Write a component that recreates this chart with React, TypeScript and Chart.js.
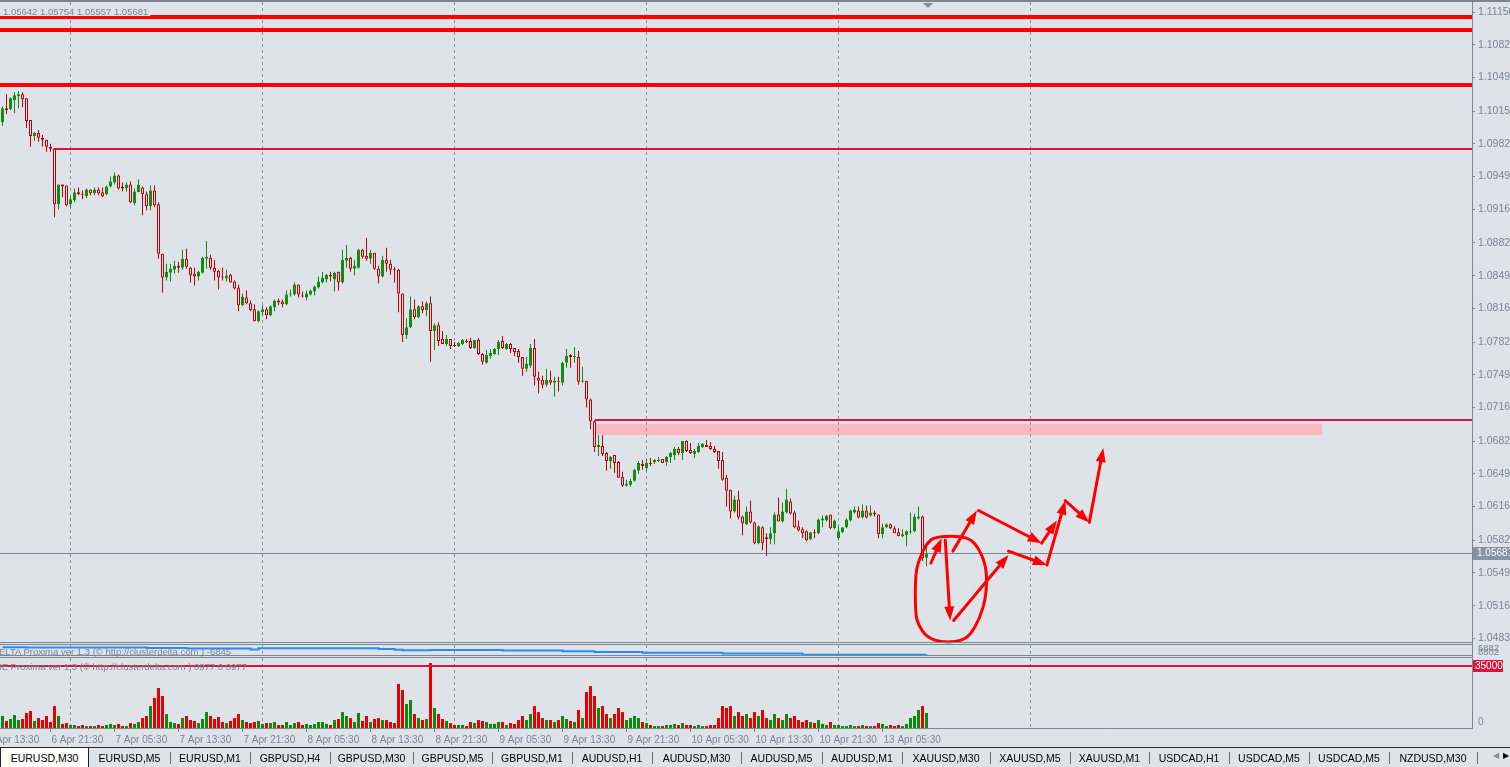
import React, { useEffect, useRef } from 'react';
import { Chart, registerables } from 'chart.js';
Chart.register(...registerables);

// ---------------- DATA (EURUSD, M30) ----------------
const opens = [
  1.1004,1.1018,1.1017,1.1026,1.1030,1.1032,1.1028,1.1006,1.0990,1.0993,
  1.0988,1.0986,1.0979,1.0977,1.0921,1.0941,1.0940,1.0921,1.0925,1.0933,
  1.0931,1.0929,1.0936,1.0932,1.0936,1.0933,1.0931,1.0939,1.0943,1.0950,
  1.0939,1.0937,1.0941,1.0922,1.0933,1.0938,1.0931,1.0919,1.0935,1.0921,
  1.0871,1.0847,1.0852,1.0855,1.0859,1.0857,1.0866,1.0857,1.0851,1.0848,
  1.0852,1.0866,1.0867,1.0857,1.0854,1.0848,1.0846,1.0850,1.0843,1.0837,
  1.0819,1.0827,1.0821,1.0815,1.0803,1.0812,1.0815,1.0809,1.0817,1.0824,
  1.0823,1.0820,1.0830,1.0830,1.0840,1.0829,1.0827,1.0830,1.0833,1.0837,
  1.0842,1.0845,1.0850,1.0845,1.0853,1.0842,1.0864,1.0867,1.0856,1.0857,
  1.0875,1.0869,1.0866,1.0872,1.0856,1.0848,1.0865,1.0861,1.0856,1.0855,
  1.0831,1.0789,1.0797,1.0815,1.0807,1.0818,1.0814,1.0821,1.0793,1.0799,
  1.0785,1.0780,1.0785,1.0779,1.0778,1.0780,1.0783,1.0783,1.0776,1.0784,
  1.0770,1.0761,1.0768,1.0770,1.0775,1.0783,1.0775,1.0780,1.0776,1.0773,
  1.0767,1.0755,1.0758,1.0776,1.0746,1.0744,1.0739,1.0744,1.0741,1.0743,
  1.0741,1.0761,1.0769,1.0767,1.0767,1.0742,1.0743,1.0724,1.0702,1.0676,
  1.0677,1.0670,1.0662,1.0668,1.0661,1.0646,1.0637,1.0638,1.0642,1.0652,
  1.0659,1.0655,1.0660,1.0661,1.0662,1.0664,1.0661,1.0666,1.0668,1.0674,
  1.0670,1.0682,1.0673,1.0669,1.0671,1.0676,1.0678,1.0677,1.0674,1.0672,
  1.0663,1.0645,1.0633,1.0611,1.0623,1.0606,1.0598,1.0611,1.0600,1.0579,
  1.0595,1.0585,1.0583,1.0589,1.0608,1.0601,1.0610,1.0621,1.0610,1.0596,
  1.0593,1.0591,1.0583,1.0590,1.0589,1.0602,1.0602,1.0608,1.0594,1.0584,
  1.0590,1.0595,1.0602,1.0610,1.0612,1.0605,1.0612,1.0607,1.0610,1.0608,
  1.0588,1.0595,1.0598,1.0594,1.0590,1.0586,1.0587,1.0590,1.0591,1.0604,
  1.0606,1.05642,
];
const highs = [
  1.1020,1.1032,1.1029,1.1034,1.1035,1.1034,1.1028,1.1006,1.0994,1.0996,
  1.0991,1.0986,1.0982,1.0977,1.0941,1.0941,1.0940,1.0929,1.0937,1.0938,
  1.0935,1.0937,1.0936,1.0938,1.0938,1.0938,1.0940,1.0949,1.0953,1.0951,
  1.0943,1.0943,1.0944,1.0937,1.0946,1.0939,1.0934,1.0940,1.0940,1.0923,
  1.0871,1.0861,1.0861,1.0864,1.0863,1.0875,1.0876,1.0858,1.0857,1.0854,
  1.0868,1.0884,1.0870,1.0865,1.0855,1.0857,1.0855,1.0851,1.0844,1.0840,
  1.0831,1.0834,1.0824,1.0820,1.0814,1.0819,1.0817,1.0819,1.0825,1.0826,
  1.0825,1.0834,1.0835,1.0842,1.0840,1.0833,1.0834,1.0835,1.0839,1.0848,
  1.0853,1.0851,1.0853,1.0853,1.0853,1.0875,1.0880,1.0868,1.0865,1.0876,
  1.0876,1.0887,1.0875,1.0872,1.0859,1.0869,1.0877,1.0865,1.0858,1.0856,
  1.0831,1.0806,1.0828,1.0825,1.0819,1.0823,1.0823,1.0828,1.0801,1.0802,
  1.0793,1.0789,1.0785,1.0782,1.0782,1.0785,1.0785,1.0786,1.0784,1.0786,
  1.0771,1.0774,1.0775,1.0776,1.0784,1.0788,1.0781,1.0781,1.0776,1.0775,
  1.0767,1.0767,1.0780,1.0785,1.0752,1.0748,1.0755,1.0753,1.0747,1.0747,
  1.0762,1.0775,1.0770,1.0777,1.0773,1.0757,1.0743,1.0725,1.0703,1.0688,
  1.0688,1.0671,1.0667,1.0668,1.0662,1.0651,1.0643,1.0644,1.0654,1.0662,
  1.0663,1.0664,1.0665,1.0664,1.0666,1.0664,1.0667,1.0671,1.0676,1.0676,
  1.0682,1.0683,1.0680,1.0674,1.0680,1.0680,1.0683,1.0681,1.0677,1.0672,
  1.0671,1.0648,1.0633,1.0627,1.0632,1.0607,1.0616,1.0622,1.0601,1.0597,
  1.0596,1.0589,1.0595,1.0610,1.0625,1.0620,1.0634,1.0624,1.0612,1.0602,
  1.0595,1.0592,1.0590,1.0593,1.0604,1.0607,1.0607,1.0608,1.0603,1.0596,
  1.0595,1.0604,1.0613,1.0616,1.0616,1.0618,1.0617,1.0617,1.0612,1.0608,
  1.0599,1.0599,1.0599,1.0596,1.0594,1.0593,1.0592,1.0610,1.0609,1.0616,
  1.0607,1.05754,
];
const lows = [
  1.1000,1.1012,1.1016,1.1013,1.1018,1.1019,1.0998,1.0979,1.0985,1.0984,
  1.0979,1.0974,1.0974,1.0908,1.0916,1.0928,1.0919,1.0917,1.0923,1.0930,
  1.0926,1.0927,1.0930,1.0930,1.0930,1.0928,1.0930,1.0938,1.0941,1.0936,
  1.0934,1.0934,1.0922,1.0920,1.0933,1.0910,1.0915,1.0915,1.0918,1.0866,
  1.0832,1.0844,1.0843,1.0851,1.0852,1.0855,1.0856,1.0842,1.0839,1.0844,
  1.0851,1.0856,1.0855,1.0844,1.0835,1.0844,1.0843,1.0842,1.0835,1.0813,
  1.0818,1.0820,1.0813,1.0803,1.0802,1.0809,1.0805,1.0808,1.0813,1.0819,
  1.0817,1.0819,1.0828,1.0829,1.0827,1.0827,1.0824,1.0829,1.0829,1.0836,
  1.0841,1.0842,1.0843,1.0833,1.0834,1.0841,1.0857,1.0853,1.0849,1.0856,
  1.0866,1.0864,1.0861,1.0855,1.0841,1.0847,1.0853,1.0850,1.0842,1.0812,
  1.0782,1.0785,1.0796,1.0805,1.0806,1.0811,1.0808,1.0762,1.0774,1.0778,
  1.0780,1.0778,1.0775,1.0777,1.0777,1.0779,1.0781,1.0775,1.0775,1.0769,
  1.0759,1.0760,1.0765,1.0769,1.0769,1.0775,1.0774,1.0771,1.0768,1.0761,
  1.0748,1.0752,1.0756,1.0738,1.0730,1.0735,1.0737,1.0739,1.0727,1.0732,
  1.0738,1.0756,1.0756,1.0761,1.0739,1.0741,1.0716,1.0694,1.0671,1.0667,
  1.0667,1.0652,1.0654,1.0650,1.0645,1.0636,1.0636,1.0636,1.0641,1.0649,
  1.0653,1.0651,1.0657,1.0659,1.0661,1.0660,1.0657,1.0660,1.0663,1.0668,
  1.0663,1.0671,1.0669,1.0665,1.0670,1.0675,1.0676,1.0673,1.0670,1.0654,
  1.0642,1.0616,1.0604,1.0610,1.0603,1.0587,1.0597,1.0599,1.0578,1.0578,
  1.0572,1.0566,1.0578,1.0578,1.0601,1.0600,1.0609,1.0608,1.0594,1.0591,
  1.0584,1.0581,1.0582,1.0584,1.0588,1.0595,1.0601,1.0593,1.0593,1.0582,
  1.0589,1.0594,1.0601,1.0609,1.0604,1.0604,1.0604,1.0606,1.0606,1.0584,
  1.0584,1.0594,1.0593,1.0589,1.0586,1.0585,1.0576,1.0588,1.0590,1.0603,
  1.0561,1.05557,
];
const closes = [
  1.1018,1.1016,1.1028,1.1031,1.1032,1.1027,1.1005,1.0990,1.0993,1.0988,
  1.0986,1.0979,1.0977,1.0921,1.0941,1.0939,1.0920,1.0926,1.0933,1.0931,
  1.0930,1.0936,1.0932,1.0936,1.0932,1.0929,1.0939,1.0944,1.0950,1.0937,
  1.0937,1.0941,1.0923,1.0934,1.0941,1.0931,1.0919,1.0935,1.0920,1.0871,
  1.0847,1.0853,1.0856,1.0859,1.0857,1.0866,1.0858,1.0849,1.0848,1.0853,
  1.0867,1.0868,1.0857,1.0853,1.0847,1.0847,1.0849,1.0842,1.0836,1.0819,
  1.0828,1.0821,1.0814,1.0803,1.0813,1.0815,1.0809,1.0818,1.0824,1.0822,
  1.0820,1.0830,1.0831,1.0840,1.0830,1.0828,1.0831,1.0834,1.0838,1.0843,
  1.0847,1.0850,1.0848,1.0852,1.0842,1.0865,1.0867,1.0856,1.0859,1.0875,
  1.0868,1.0866,1.0872,1.0856,1.0848,1.0865,1.0861,1.0855,1.0855,1.0831,
  1.0789,1.0797,1.0815,1.0807,1.0818,1.0814,1.0821,1.0793,1.0799,1.0783,
  1.0780,1.0785,1.0778,1.0778,1.0781,1.0784,1.0782,1.0776,1.0784,1.0770,
  1.0762,1.0769,1.0771,1.0775,1.0782,1.0776,1.0780,1.0775,1.0772,1.0767,
  1.0755,1.0760,1.0776,1.0747,1.0743,1.0739,1.0744,1.0741,1.0743,1.0742,
  1.0761,1.0768,1.0767,1.0768,1.0742,1.0743,1.0724,1.0702,1.0676,1.0678,
  1.0669,1.0662,1.0666,1.0660,1.0645,1.0637,1.0639,1.0642,1.0653,1.0660,
  1.0657,1.0660,1.0659,1.0663,1.0663,1.0660,1.0666,1.0670,1.0674,1.0670,
  1.0682,1.0672,1.0670,1.0672,1.0677,1.0679,1.0676,1.0674,1.0671,1.0662,
  1.0643,1.0632,1.0611,1.0623,1.0605,1.0599,1.0611,1.0600,1.0579,1.0596,
  1.0579,1.0583,1.0589,1.0608,1.0601,1.0611,1.0623,1.0609,1.0595,1.0592,
  1.0589,1.0582,1.0590,1.0589,1.0603,1.0604,1.0607,1.0594,1.0602,1.0591,
  1.0595,1.0603,1.0612,1.0613,1.0605,1.0612,1.0605,1.0610,1.0608,1.0588,
  1.0595,1.0598,1.0594,1.0589,1.0586,1.0588,1.0591,1.0591,1.0606,1.0606,
  1.0564,1.05681,
];
const volumes = [
  6800,4000,5100,7300,4500,5100,8500,9600,4000,5600,
  4500,6800,3400,12400,6800,2300,2800,1700,1700,1100,
  1700,1100,1100,1100,1700,1100,1700,2300,1700,2300,
  1100,1100,2800,2300,3400,5600,6800,12400,17000,22600,
  18100,7900,3400,2800,2300,5600,6800,4500,4000,2800,
  5100,9000,6800,5100,6200,3400,2800,4000,5600,7900,
  4500,3400,2800,3400,4000,2300,2800,2800,3400,1700,
  1700,3400,1700,2800,3400,1700,2300,1700,2300,3400,
  3400,2300,1700,4500,5100,9000,6800,5600,3400,8500,
  4000,6800,3400,5100,5600,4500,4500,3400,2800,24900,
  21500,13600,15800,7900,5600,4500,5100,36700,11300,7900,
  5100,4000,2800,1700,1700,1700,1100,3400,2800,4500,
  4000,3400,2300,2300,3400,3400,1700,2800,2300,4500,
  6800,4500,7900,12400,9000,5600,4500,4500,3400,4500,
  6800,5100,4000,3400,10200,5600,20300,23700,18100,11300,
  12400,7900,5600,7900,11300,9000,4500,5600,6800,5600,
  3400,2800,1700,1100,1100,1100,1700,1700,2300,1700,
  2800,1700,1700,1100,1700,1100,1100,1700,1700,5600,
  12400,11300,12400,6800,9000,6800,7900,5600,9000,6800,
  10200,5600,4500,7900,5600,4500,7900,5600,6800,4500,
  3400,4500,3400,2800,4500,2300,1700,3400,1700,1700,
  1100,1100,1700,1100,1100,1700,1100,1100,1100,2800,
  2300,1100,1700,1100,1700,1100,2300,5600,6800,10200,
  12400,8500,
];
// DELTA Proxima cumulative line (bar index, value)
const deltaIdx = [0, 6, 36, 46, 62, 64, 94, 98, 100, 107, 125, 140, 148, 160, 180, 200, 231];
const deltaVals = [11500, 10500, 9500, 8000, 5500, 9000, 7000, 5000, 4000, 4500, 3000, 1000, -500, -2500, -4500, -7500, -6845];

const priceTicks = [1.0483, 1.0516, 1.0549, 1.0582, 1.0616, 1.0649, 1.0682, 1.0716, 1.0749, 1.0782,
  1.0816, 1.0849, 1.0882, 1.0916, 1.0949, 1.0982, 1.1015, 1.1049, 1.1082, 1.1115];
const timeTickIdx = [-4, 12, 28, 44, 60, 76, 92, 108, 124, 140, 156, 172, 188, 204, 220];
const timeLabels = ['6 Apr 13:30', '6 Apr 21:30', '7 Apr 05:30', '7 Apr 13:30', '7 Apr 21:30', '8 Apr 05:30',
  '8 Apr 13:30', '8 Apr 21:30', '9 Apr 05:30', '9 Apr 13:30', '9 Apr 21:30', '10 Apr 05:30',
  '10 Apr 13:30', '10 Apr 21:30', '13 Apr 05:30'];
const gridIdx = [17, 65, 113, 161, 209, 257];

// chart objects (price levels / zone)
const thickLevels = [1.1110, 1.1097, 1.1041];
const thinLevel = 1.0977;
const thinLevelStart = 12.8;
const zoneLine = 1.0703;
const zoneHigh = 1.0699;
const zoneLow = 1.0688;
const zoneStart = 148.2;
const zoneEnd = 329.9;
const volumeLevel = 35000;

// hand-drawn red marks (bar index, price)
const circleIdx = [233.2, 241.5, 244.4, 246.1, 245.9, 244.4, 241.9, 239.4, 234.8, 231.1, 229.0, 228.2, 228.2, 229.4, 231.1];
const circlePrice = [1.0586, 1.0586, 1.0572, 1.0552, 1.0525, 1.0504, 1.0486, 1.0480, 1.0479, 1.0484, 1.0496, 1.0508, 1.0549, 1.0565, 1.0579];
const arrowFromIdx = [232.1, 235.7, 237.8, 251.5, 261.1, 237.6, 244.0, 259.8, 265.7, 271.7];
const arrowFromPrice = [1.0559, 1.0582, 1.0501, 1.0571, 1.0557, 1.0571, 1.0612, 1.0579, 1.0622, 1.0600];
const arrowToIdx = [234.8, 236.9, 251.5, 261.1, 265.7, 243.6, 259.8, 263.6, 271.7, 275.2];
const arrowToPrice = [1.0584, 1.0501, 1.0567, 1.0557, 1.0622, 1.0612, 1.0579, 1.0602, 1.0600, 1.0675];

const tabNames = ['EURUSD,M30', 'EURUSD,M5', 'EURUSD,M1', 'GBPUSD,H4', 'GBPUSD,M30', 'GBPUSD,M5', 'GBPUSD,M1',
  'AUDUSD,H1', 'AUDUSD,M30', 'AUDUSD,M5', 'AUDUSD,M1', 'XAUUSD,M30', 'XAUUSD,M5', 'XAUUSD,M1',
  'USDCAD,H1', 'USDCAD,M5', 'USDCAD,M5', 'NZDUSD,M30'];

// ---------------- LAYOUT / STYLE ----------------
const TAB_EDGES = [0, 89, 170, 250, 330, 413, 492, 572, 652, 741, 822, 902, 990, 1070, 1149, 1229, 1309, 1389, 1477];
const FONT = '"Liberation Sans", Arial, sans-serif';
const BG = '#dee3ea';
const TXT = '#7a8594';
const AXIS = '#7c8794';
const GRID = '#8a95a2';
const UP = '#148c14';
const DN = '#c40000';
const VUP = '#0c8a0c';
const VDN = '#e60000';
const PLOT_W = 1472;
const X_MIN = -0.625;
const X_MAX = X_MIN + PLOT_W / 4;
const P_MIN = 1.04793;
const P_MAX = 1.11251;

const N = opens.length;
const idx = opens.map((_, i) => i);
const up = (i: number) => closes[i] >= opens[i];

function drawGrid(ctx: any, x: any, top: number, bottom: number) {
  ctx.save();
  ctx.strokeStyle = GRID;
  ctx.lineWidth = 1;
  ctx.setLineDash([3, 3]);
  gridIdx.forEach((g) => {
    const px = Math.floor(x.getPixelForValue(g)) + 0.5;
    ctx.beginPath();
    ctx.moveTo(px, top);
    ctx.lineTo(px, bottom);
    ctx.stroke();
  });
  ctx.restore();
}

function arrow(ctx: any, x1: number, y1: number, x2: number, y2: number) {
  const ang = Math.atan2(y2 - y1, x2 - x1);
  const L = 14, HW = 5;
  const bx = x2 - L * Math.cos(ang), by = y2 - L * Math.sin(ang);
  ctx.beginPath();
  ctx.moveTo(x1, y1);
  ctx.lineTo(bx, by);
  ctx.stroke();
  ctx.beginPath();
  ctx.moveTo(x2, y2);
  ctx.lineTo(bx + HW * Math.sin(ang), by - HW * Math.cos(ang));
  ctx.lineTo(bx - HW * Math.sin(ang), by + HW * Math.cos(ang));
  ctx.closePath();
  ctx.fill();
}

const mainDecor = {
  id: 'mainDecor',
  beforeDatasetsDraw(chart: any) {
    const { ctx, chartArea: a } = chart;
    const x = chart.scales.x, y = chart.scales.y;
    ctx.save();
    const zx1 = Math.round(x.getPixelForValue(zoneStart));
    const zx2 = Math.round(x.getPixelForValue(zoneEnd));
    const zy1 = Math.round(y.getPixelForValue(zoneHigh));
    const zy2 = Math.round(y.getPixelForValue(zoneLow));
    ctx.fillStyle = '#ffb6c1';
    ctx.fillRect(zx1, zy1, zx2 - zx1, zy2 - zy1);
    drawGrid(ctx, x, a.top, a.bottom);
    ctx.strokeStyle = '#ff0000';
    ctx.lineWidth = 4;
    thickLevels.forEach((p) => {
      const py = Math.round(y.getPixelForValue(p));
      ctx.beginPath();
      ctx.moveTo(a.left, py);
      ctx.lineTo(a.right, py);
      ctx.stroke();
    });
    ctx.strokeStyle = '#dc143c';
    ctx.lineWidth = 2;
    let py = Math.round(y.getPixelForValue(thinLevel));
    ctx.beginPath();
    ctx.moveTo(x.getPixelForValue(thinLevelStart), py);
    ctx.lineTo(a.right, py);
    ctx.stroke();
    py = Math.round(y.getPixelForValue(zoneLine));
    ctx.beginPath();
    ctx.moveTo(zx1, py);
    ctx.lineTo(a.right, py);
    ctx.stroke();
    const cy = Math.floor(y.getPixelForValue(closes[N - 1])) + 0.5;
    ctx.strokeStyle = '#7b8796';
    ctx.lineWidth = 1;
    ctx.beginPath();
    ctx.moveTo(a.left, cy);
    ctx.lineTo(a.right, cy);
    ctx.stroke();
    ctx.restore();
  },
  afterDatasetsDraw(chart: any) {
    const { ctx } = chart;
    const x = chart.scales.x, y = chart.scales.y;
    ctx.save();
    ctx.strokeStyle = '#ff0000';
    ctx.fillStyle = '#ff0000';
    ctx.lineWidth = 3;
    ctx.lineCap = 'round';
    ctx.lineJoin = 'round';
    const pts = circleIdx.map((v, k) => [x.getPixelForValue(v), y.getPixelForValue(circlePrice[k])]);
    ctx.beginPath();
    const m0 = [(pts[0][0] + pts[pts.length - 1][0]) / 2, (pts[0][1] + pts[pts.length - 1][1]) / 2];
    ctx.moveTo(m0[0], m0[1]);
    for (let k = 0; k < pts.length; k++) {
      const p = pts[k], q = pts[(k + 1) % pts.length];
      ctx.quadraticCurveTo(p[0], p[1], (p[0] + q[0]) / 2, (p[1] + q[1]) / 2);
    }
    ctx.stroke();
    arrowFromIdx.forEach((v, k) => {
      arrow(ctx, x.getPixelForValue(v), y.getPixelForValue(arrowFromPrice[k]),
        x.getPixelForValue(arrowToIdx[k]), y.getPixelForValue(arrowToPrice[k]));
    });
    ctx.restore();
  },
  afterDraw(chart: any) {
    const { ctx, chartArea: a } = chart;
    const y = chart.scales.y;
    ctx.save();
    ctx.font = `9.5px ${FONT}`;
    ctx.textBaseline = 'middle';
    const head = [opens[N - 1], highs[N - 1], lows[N - 1], closes[N - 1]].map((v) => v.toFixed(5)).join(' ');
    const w = ctx.measureText(head).width;
    ctx.fillStyle = BG;
    ctx.fillRect(0, 6, w + 5, 10);
    ctx.fillStyle = TXT;
    ctx.fillText(head, 3, 12);
    ctx.fillStyle = '#7f8a97';
    ctx.beginPath();
    ctx.moveTo(923, 3);
    ctx.lineTo(933, 3);
    ctx.lineTo(928, 8);
    ctx.closePath();
    ctx.fill();
    const cy = Math.floor(y.getPixelForValue(closes[N - 1])) + 0.5;
    ctx.fillStyle = '#8492a1';
    ctx.fillRect(a.right + 1, Math.round(cy) - 7, 40, 13);
    ctx.fillStyle = '#ffffff';
    ctx.font = `10px ${FONT}`;
    ctx.fillText(closes[N - 1].toFixed(5), a.right + 5, cy);
    ctx.restore();
  },
};

const deltaDecor = {
  id: 'deltaDecor',
  beforeDatasetsDraw(chart: any) {
    drawGrid(chart.ctx, chart.scales.x, 0, chart.height);
  },
  afterDraw(chart: any) {
    const { ctx, chartArea: a } = chart;
    ctx.save();
    ctx.font = `9.5px ${FONT}`;
    ctx.textBaseline = 'middle';
    ctx.fillStyle = TXT;
    ctx.fillText('6882', a.right + 6, 3);
    ctx.fillText('6802', a.right + 6, 7);
    ctx.restore();
  },
};

const volDecor = {
  id: 'volDecor',
  beforeDatasetsDraw(chart: any) {
    const a = chart.chartArea;
    drawGrid(chart.ctx, chart.scales.x, 0, a.bottom);
  },
  afterDatasetsDraw(chart: any) {
    const { ctx, chartArea: a } = chart;
    const y = chart.scales.y;
    const ly = Math.round(y.getPixelForValue(volumeLevel));
    ctx.save();
    ctx.strokeStyle = '#dc143c';
    ctx.lineWidth = 2;
    ctx.beginPath();
    ctx.moveTo(a.left, ly);
    ctx.lineTo(a.right, ly);
    ctx.stroke();
    ctx.restore();
  },
  afterDraw(chart: any) {
    const { ctx, chartArea: a } = chart;
    const y = chart.scales.y;
    const ly = Math.round(y.getPixelForValue(volumeLevel));
    ctx.save();
    ctx.font = `10px ${FONT}`;
    ctx.textBaseline = 'middle';
    ctx.fillStyle = '#dc143c';
    ctx.fillRect(a.right + 1, ly - 6, 30, 12);
    ctx.fillStyle = '#ffffff';
    ctx.fillText(String(volumeLevel), a.right + 3, ly);
    ctx.fillStyle = TXT;
    ctx.fillText('0', a.right + 6, y.getPixelForValue(0) - 6);
    ctx.restore();
  },
};

function baseX(display: boolean) {
  return { type: 'linear', min: X_MIN, max: X_MAX, offset: false, display, grid: { offset: false } };
}

export default function App() {
  const mainRef = useRef<HTMLCanvasElement>(null);
  const deltaRef = useRef<HTMLCanvasElement>(null);
  const volRef = useRef<HTMLCanvasElement>(null);

  useEffect(() => {
    document.body.style.margin = '0';
    const main = new Chart(mainRef.current as any, {
      type: 'bar',
      data: {
        datasets: [
          {
            label: 'body',
            data: idx.map((i) => ({ x: i, y: [opens[i], closes[i]] })),
            backgroundColor: idx.map((i) => (up(i) ? UP : BG)),
            borderColor: idx.map((i) => (up(i) ? UP : DN)),
            borderWidth: 1,
            borderSkipped: false,
            barThickness: 3,
            minBarLength: 1,
            inflateAmount: 0,
            grouped: false,
            order: 0,
          },
          {
            label: 'wick',
            data: idx.map((i) => ({ x: i, y: [lows[i], highs[i]] })),
            backgroundColor: idx.map((i) => (up(i) ? UP : DN)),
            borderWidth: 0,
            barThickness: 1,
            inflateAmount: 0,
            grouped: false,
            order: 1,
          },
        ] as any,
      },
      options: {
        animation: false,
        responsive: false,
        events: [],
        layout: { padding: { top: 2, bottom: 2, left: 0, right: 0 } },
        plugins: { legend: { display: false }, tooltip: { enabled: false } },
        scales: {
          x: baseX(false) as any,
          y: {
            type: 'linear',
            position: 'right',
            min: P_MIN,
            max: P_MAX,
            afterBuildTicks: (s: any) => { s.ticks = priceTicks.map((v) => ({ value: v })); },
            afterFit: (s: any) => { s.width = 38; s.paddingTop = 0; s.paddingBottom = 0; },
            grid: { drawOnChartArea: false, drawTicks: true, tickLength: 3, color: AXIS },
            border: { display: true, color: AXIS },
            ticks: {
              autoSkip: false,
              padding: 3,
              color: TXT,
              font: { family: FONT, size: 10.5 },
              callback: (v: any) => Number(v).toFixed(5),
            },
          } as any,
        },
      },
      plugins: [mainDecor],
    });

    const delta = new Chart(deltaRef.current as any, {
      type: 'line',
      data: {
        datasets: [
          {
            data: deltaIdx.map((v, k) => ({ x: v, y: deltaVals[k] })),
            borderColor: '#1e90ff',
            borderWidth: 2,
            pointRadius: 0,
            stepped: true,
            fill: false,
          },
        ] as any,
      },
      options: {
        animation: false,
        responsive: false,
        events: [],
        layout: { padding: { top: 0, bottom: 0, left: 0, right: 38 } },
        plugins: { legend: { display: false }, tooltip: { enabled: false } },
        scales: {
          x: baseX(false) as any,
          y: { type: 'linear', min: -8100, max: 16900, display: false },
        },
      },
      plugins: [deltaDecor],
    });

    const vol = new Chart(volRef.current as any, {
      type: 'bar',
      data: {
        datasets: [
          {
            data: idx.map((i) => ({ x: i, y: volumes[i] })),
            backgroundColor: idx.map((i) => (up(i) ? VUP : VDN)),
            borderWidth: 0,
            barThickness: 3,
            inflateAmount: 0,
            grouped: false,
          },
        ] as any,
      },
      options: {
        animation: false,
        responsive: false,
        events: [],
        layout: { padding: { top: 0, bottom: 0, left: 0, right: 38 } },
        plugins: { legend: { display: false }, tooltip: { enabled: false } },
        scales: {
          x: {
            ...baseX(true),
            position: 'bottom',
            afterBuildTicks: (s: any) => { s.ticks = timeTickIdx.map((v) => ({ value: v })); },
            afterFit: (s: any) => { s.height = 20; s.paddingLeft = 0; s.paddingRight = 0; },
            grid: { drawOnChartArea: false, drawTicks: true, tickLength: 4, color: AXIS, offset: false },
            border: { display: true, color: AXIS },
            ticks: {
              autoSkip: false,
              maxRotation: 0,
              minRotation: 0,
              align: 'start',
              labelOffset: 1,
              padding: 2,
              color: TXT,
              font: { family: FONT, size: 10 },
              callback: (_v: any, k: number) => timeLabels[k],
            },
          } as any,
          y: { type: 'linear', min: 0, max: 39550, display: false },
        },
      },
      plugins: [volDecor],
    });

    return () => {
      main.destroy();
      delta.destroy();
      vol.destroy();
    };
  }, []);

  const abs = (l: number, t: number, w: number, h: number, bg: string): any => ({
    position: 'absolute', left: l, top: t, width: w, height: h, background: bg,
  });

  return (
    <div style={{ position: 'fixed', left: 0, top: 0, width: 1510, height: 767, background: BG, overflow: 'hidden', fontFamily: FONT }}>
      <canvas ref={mainRef} width={1510} height={644} style={{ position: 'absolute', left: 0, top: 0 }} />
      <canvas ref={deltaRef} width={1510} height={10} style={{ position: 'absolute', left: 0, top: 645 }} />
      <canvas ref={volRef} width={1510} height={90} style={{ position: 'absolute', left: 0, top: 658 }} />
      <div style={abs(0, 0, 1510, 2, '#7c8590')} />
      <div style={abs(0, 642, PLOT_W, 1, AXIS)} />
      <div style={abs(0, 644, PLOT_W, 1, AXIS)} />
      <div style={abs(0, 655, PLOT_W, 1, AXIS)} />
      <div style={abs(0, 657, PLOT_W, 1, AXIS)} />
      <div style={abs(PLOT_W, 0, 1, 729, AXIS)} />
      <div style={{ position: 'absolute', left: -1, top: 647, fontSize: 9.5, lineHeight: '10px', color: TXT, whiteSpace: 'nowrap' }}>
        ELTA Proxima ver 1.3 (© http://clusterdelta.com ) -6845
      </div>
      <div style={{ position: 'absolute', left: -1, top: 662, fontSize: 9.5, lineHeight: '10px', color: TXT, whiteSpace: 'nowrap' }}>
        IE Proxima ver 1.3 (© http://clusterdelta.com ) 0977 0 0977
      </div>
      <div style={abs(0, 747, 1510, 1, '#2a2a2a')} />
      {tabNames.map((t, k) => {
        const l = TAB_EDGES[k];
        const r = TAB_EDGES[k + 1];
        const active = k === 0;
        return (
          <div
            key={k}
            style={{
              position: 'absolute', left: l, top: 748, width: r - l, height: 19, boxSizing: 'border-box',
              display: 'flex', alignItems: 'center', justifyContent: 'center', fontSize: 10.5, color: '#000',
              background: active ? '#ffffff' : 'transparent',
              borderRight: active ? '1px solid #222' : 'none',
              borderLeft: active ? '1px solid #222' : 'none',
              whiteSpace: 'nowrap',
            }}
          >
            {t}
          </div>
        );
      })}
      {TAB_EDGES.slice(2).map((e, k) => (
        <div key={'s' + k} style={abs(e, 752, 1, 12, '#6b6b6b')} />
      ))}
      <div style={{ position: 'absolute', left: 1493, top: 751, fontSize: 8, color: '#8a8a8a' }}>◀</div>
      <div style={{ position: 'absolute', left: 1503, top: 751, fontSize: 8, color: '#000' }}>▶</div>
    </div>
  );
}
